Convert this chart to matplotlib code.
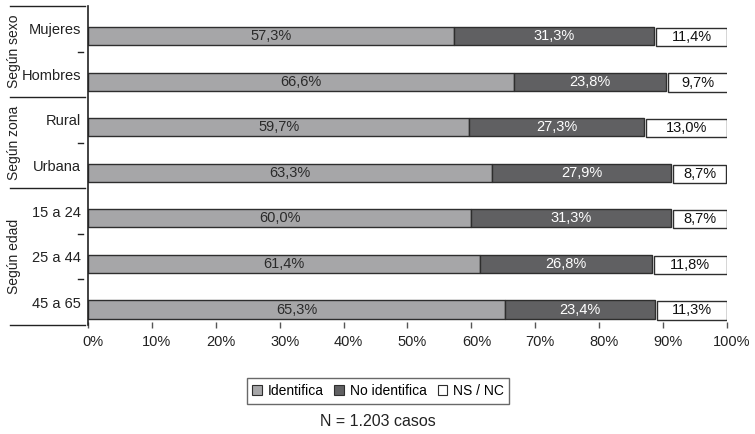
import matplotlib
matplotlib.use("Agg")
import matplotlib.pyplot as plt
import matplotlib.transforms as mtransforms
from matplotlib.lines import Line2D
from matplotlib.patches import Patch
import numpy as np

plt.rcParams['font.family'] = ['Liberation Sans', 'DejaVu Sans']

categories = ["Mujeres", "Hombres", "Rural", "Urbana", "15 a 24", "25 a 44", "45 a 65"]
groups = ["Según sexo", "Según zona", "Según edad"]
group_sizes = [2, 2, 3]
identifica = [57.3, 66.6, 59.7, 63.3, 60.0, 61.4, 65.3]
no_identifica = [31.3, 23.8, 27.3, 27.9, 31.3, 26.8, 23.4]
ns_nc = [11.4, 9.7, 13.0, 8.7, 8.7, 11.8, 11.3]
series_names = ["Identifica", "No identifica", "NS / NC"]
xticks = [0, 10, 20, 30, 40, 50, 60, 70, 80, 90, 100]
note = "N = 1.203 casos"

c_light = "#a6a6a8"
c_dark = "#606062"
c_edge = "#2e2e2e"

fig = plt.figure(figsize=(7.55, 4.34), dpi=100)
ax = fig.add_axes([88 / 755, 1 - 325 / 434, (727 - 88) / 755, (325 - 6) / 434])

n = len(categories)
y = np.arange(n)
bar_y = y + 0.16
h = 0.4

def fmt(v):
    return f"{v:.1f}%".replace(".", ",")

a = np.array(identifica)
b = np.array(no_identifica)
c = np.array(ns_nc)

ax.barh(bar_y, a, height=h, color=c_light, edgecolor=c_edge, linewidth=1.0)
ax.barh(bar_y, b, left=a, height=h, color=c_dark, edgecolor=c_edge, linewidth=1.0)
ax.barh(bar_y + 0.02, c - 0.3, left=a + b + 0.3, height=h, color="white",
        edgecolor=c_edge, linewidth=1.0)

for i in range(n):
    ax.text(a[i] / 2, bar_y[i], fmt(a[i]), ha="center", va="center",
            fontsize=10.5, color="#2a2a2a")
    ax.text(a[i] + b[i] / 2, bar_y[i], fmt(b[i]), ha="center", va="center",
            fontsize=10.5, color="white")
    ax.text(a[i] + b[i] + 0.3 + (c[i] - 0.3) / 2, bar_y[i] + 0.02, fmt(c[i]),
            ha="center", va="center", fontsize=10.5, color="#111111")

ax.set_xlim(0, 100)
ax.set_ylim(n - 0.5, -0.5)

# x ticks: marks on the axis, labels set slightly to the right of each mark
ax.set_xticks(xticks)
ax.set_xticklabels([])
ax.tick_params(axis="x", direction="inout", length=4, width=1, color="#555555")
xlab_trans = mtransforms.blended_transform_factory(ax.transData, ax.transAxes) + \
    mtransforms.ScaledTranslation(5 / 100, -17 / 100, fig.dpi_scale_trans)
for t in xticks:
    ax.text(t, 0, f"{t}%", transform=xlab_trans, ha="center", va="center",
            fontsize=10.5, color="#222222", clip_on=False)

ax.set_yticks(y)
ax.set_yticklabels(categories, fontsize=10.5, color="#222222")
ax.tick_params(axis="y", length=0, pad=5)

for s in ["top", "right", "bottom"]:
    ax.spines[s].set_visible(False)
ax.spines["left"].set_color("#222222")
ax.spines["left"].set_linewidth(1.2)

# group separators and inner boundary ticks to the left of the axis
trans = mtransforms.blended_transform_factory(ax.transAxes, ax.transData)
x_left = (10 - 88) / (727 - 88)
x_right = (85 - 88) / (727 - 88)
bounds = np.cumsum([0] + group_sizes) - 0.5
for yb in bounds:
    ax.add_line(Line2D([x_left, x_right], [yb, yb], transform=trans,
                       color="#222222", linewidth=1.0, clip_on=False))
start = 0
for g, size in zip(groups, group_sizes):
    for k in range(1, size):
        yb = start + k - 0.5
        ax.add_line(Line2D([(78 - 88) / 639, (83 - 88) / 639], [yb, yb],
                           transform=trans, color="#222222", linewidth=1.0,
                           clip_on=False))
    ymid = start + (size - 1) / 2
    ax.text((14 - 88) / 639, ymid, g, transform=trans, rotation=90,
            ha="center", va="center", fontsize=10, color="#222222")
    start += size

handles = [Patch(facecolor=c_light, edgecolor=c_edge, linewidth=0.8),
           Patch(facecolor=c_dark, edgecolor=c_edge, linewidth=0.8),
           Patch(facecolor="white", edgecolor=c_edge, linewidth=0.8)]
leg = fig.legend(handles, series_names, loc="center", bbox_to_anchor=(378 / 755, 1 - 391 / 434),
                 ncol=3, fontsize=10, frameon=True, fancybox=False, edgecolor="#444444",
                 handlelength=0.7, handleheight=0.7, handletextpad=0.4, columnspacing=0.8,
                 borderpad=0.4, borderaxespad=0)
leg.get_frame().set_linewidth(1.0)

fig.text(378 / 755, 1 - 421 / 434, note, ha="center", va="center", fontsize=11.5,
         color="#222222")

fig.savefig("out.png", dpi=100)
